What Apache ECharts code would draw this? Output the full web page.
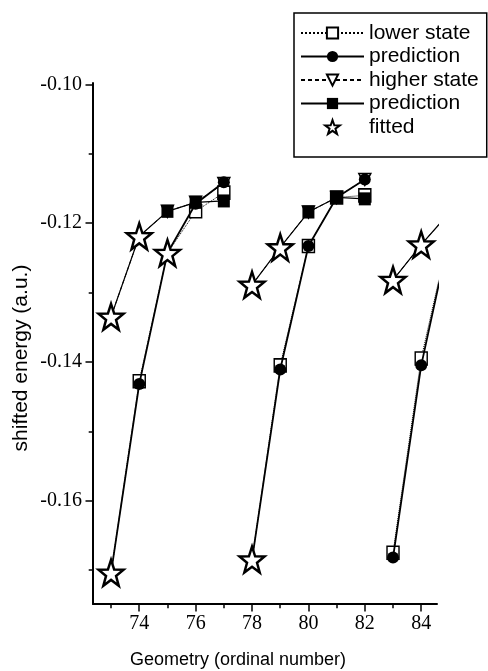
<!DOCTYPE html>
<html>
<head>
<meta charset="utf-8">
<script src="https://cdn.jsdelivr.net/npm/echarts@6/dist/echarts.min.js"></script>
<style>
html,body{margin:0;padding:0;background:#fff;}
#chart{width:488px;height:671px;}
</style>
</head>
<body>
<div id="chart"></div>
<script>
// ---- data ----
const groupX = [[73, 74, 75, 76, 77], [78, 79, 80, 81, 82], [83, 84, 85]];
const lowerState = [[-0.1704, -0.1428, -0.1243, -0.1183, -0.1156], [-0.1685, -0.1405, -0.1233, -0.1163, -0.1160], [-0.1675, -0.1395, -0.1215]];
const lowerPrediction = [[-0.1704, -0.1432, -0.1243, -0.1172, -0.1141], [-0.1685, -0.1411, -0.1233, -0.1163, -0.1137], [-0.1682, -0.1405, -0.1218]];
const higherState = [[-0.1335, -0.1219, -0.1183, -0.1170, -0.1143], [-0.1289, -0.1235, -0.1184, -0.1163, -0.1137], [-0.1282, -0.1231, -0.1185]];
const higherPrediction = [[-0.1335, -0.1219, -0.1183, -0.1170, -0.1168], [-0.1289, -0.1235, -0.1184, -0.1163, -0.1165], [-0.1282, -0.1231, -0.1185]];
const fittedLowerX = [73, 75, 78];
const fittedHigherX = [73, 74, 78, 79, 83, 84];
const xMajorTicks = [74, 76, 78, 80, 82, 84];
const xMinorTicks = [73, 75, 77, 79, 81, 83];
const yMajorTicks = [-0.16, -0.14, -0.12, -0.10];
const yMinorTicks = [-0.17, -0.15, -0.13, -0.11];
const seriesNames = ['lower state', 'prediction', 'higher state', 'prediction ', 'fitted'];

// ---- build ----
function buildLine(values, fittedX) {
  const out = [];
  groupX.forEach((xs, g) => {
    if (g > 0) out.push('-');
    xs.forEach((x, i) => {
      const item = { value: [x, values[g][i]] };
      if (fittedX.indexOf(x) > -1) item.symbol = 'none';
      out.push(item);
    });
  });
  return out;
}
function buildFitted(values, fittedX) {
  const out = [];
  groupX.forEach((xs, g) => {
    xs.forEach((x, i) => {
      if (fittedX.indexOf(x) > -1) out.push([x, values[g][i]]);
    });
  });
  return out;
}
const fittedData = buildFitted(lowerState, fittedLowerX).concat(buildFitted(higherState, fittedHigherX));

const starPath = 'path://M50 0 L61.76 33.82 L97.55 34.55 L69.02 56.18 L79.39 90.45 L50 70 L20.61 90.45 L30.98 56.18 L2.45 34.55 L38.24 33.82 Z';

const X_MIN = 72.36, X_MAX = 84.56, Y_MIN = -0.1749, Y_MAX = -0.0998;
const serif = "'Liberation Serif', 'Times New Roman', serif";
const sans = "'Liberation Sans', Arial, Helvetica, sans-serif";

const chart = echarts.init(document.getElementById('chart'), null, { renderer: 'canvas' });
chart.setOption({
  animation: false,
  backgroundColor: '#fff',
  grid: { left: 93, right: 51, top: 83, bottom: 67, containLabel: false },
  legend: {
    orient: 'vertical',
    left: 294, top: 13,
    padding: [9.5, 8, 19.5, 6],
    itemWidth: 63, itemHeight: 14, itemGap: 2.5,
    borderColor: '#000', borderWidth: 1.5,
    backgroundColor: '#fff',
    textStyle: { fontFamily: sans, fontSize: 21, color: '#000' },
    data: seriesNames
  },
  xAxis: [{
    type: 'value', min: X_MIN, max: X_MAX,
    axisLine: { show: true, onZero: false, lineStyle: { color: '#000', width: 2 } },
    axisTick: { show: true, customValues: xMajorTicks, length: 7.5, lineStyle: { color: '#000', width: 1.5 } },
    axisLabel: { customValues: xMajorTicks, margin: 10, color: '#000', fontFamily: serif, fontSize: 20 },
    splitLine: { show: false }
  }, {
    type: 'value', min: X_MIN, max: X_MAX, position: 'bottom',
    axisLine: { show: false, onZero: false },
    axisTick: { show: true, customValues: xMinorTicks, length: 4.3, lineStyle: { color: '#000', width: 1.5 } },
    axisLabel: { show: false },
    splitLine: { show: false }
  }],
  yAxis: [{
    type: 'value', min: Y_MIN, max: Y_MAX,
    axisLine: { show: true, onZero: false, lineStyle: { color: '#000', width: 2 } },
    axisTick: { show: true, customValues: yMajorTicks, length: 7.5, lineStyle: { color: '#000', width: 1.5 } },
    axisLabel: { customValues: yMajorTicks, margin: 11, color: '#000', fontFamily: serif, fontSize: 20,
      formatter: v => v.toFixed(2) },
    splitLine: { show: false }
  }, {
    type: 'value', min: Y_MIN, max: Y_MAX, position: 'left',
    axisLine: { show: false, onZero: false },
    axisTick: { show: true, customValues: yMinorTicks, length: 4.3, lineStyle: { color: '#000', width: 1.5 } },
    axisLabel: { show: false },
    splitLine: { show: false }
  }],
  graphic: [{
    type: 'text', x: 21, y: 358, rotation: Math.PI / 2,
    style: { text: 'shifted energy (a.u.)', font: '21px ' + sans, fill: '#000',
      align: 'center', verticalAlign: 'middle', textAlign: 'center', textVerticalAlign: 'middle' }
  }, {
    type: 'text', x: 238, y: 660,
    style: { text: 'Geometry (ordinal number)', font: '18px ' + sans, fill: '#000',
      align: 'center', verticalAlign: 'middle', textAlign: 'center', textVerticalAlign: 'middle' }
  }],
  series: [{
    name: seriesNames[0], type: 'line', data: buildLine(lowerState, fittedLowerX),
    symbol: 'rect', symbolSize: [12, 13],
    itemStyle: { color: '#fff', borderColor: '#000', borderWidth: 1.5 },
    lineStyle: { color: '#000', width: 1, type: 'dotted' },
    connectNulls: false, clip: true, z: 2
  }, {
    name: seriesNames[1], type: 'line', data: buildLine(lowerPrediction, fittedLowerX),
    symbol: 'circle', symbolSize: 12,
    itemStyle: { color: '#000' },
    lineStyle: { color: '#000', width: 1.8, type: 'solid' },
    connectNulls: false, clip: true, z: 3
  }, {
    name: seriesNames[2], type: 'line', data: buildLine(higherState, fittedHigherX),
    symbol: 'triangle', symbolRotate: 180, symbolSize: 12,
    itemStyle: { color: '#fff', borderColor: '#000', borderWidth: 1.5 },
    lineStyle: { color: '#000', width: 1, type: [4, 3] },
    connectNulls: false, clip: true, z: 1
  }, {
    name: seriesNames[3], type: 'line', data: buildLine(higherPrediction, fittedHigherX),
    symbol: 'rect', symbolSize: [12, 13],
    itemStyle: { color: '#000' },
    lineStyle: { color: '#000', width: 1.2, type: 'solid' },
    connectNulls: false, clip: true, z: 3
  }, {
    name: seriesNames[4], type: 'scatter', data: fittedData,
    symbol: starPath, symbolSize: [25, 26], symbolKeepAspect: false,
    itemStyle: { color: '#fff', borderColor: '#000', borderWidth: 2.5, opacity: 1 },
    z: 5, clip: true
  }]
});
</script>
</body>
</html>
